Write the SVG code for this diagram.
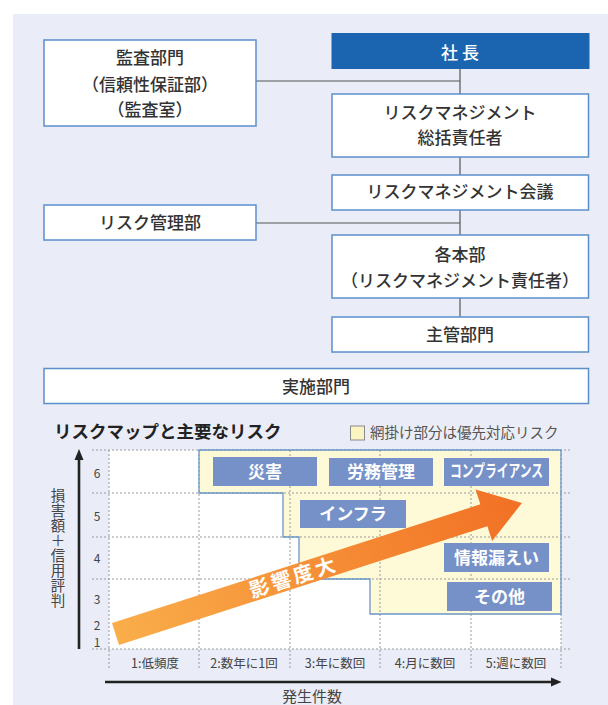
<svg xmlns="http://www.w3.org/2000/svg" width="608" height="705" viewBox="0 0 608 705">
<defs>
<style>
.box{fill:#fff;stroke:#5b8fcc;stroke-width:1.5}
.t{font-family:"Noto Sans CJK JP","Noto Sans",sans-serif;font-size:17px;font-weight:500;fill:#333;text-anchor:middle}
.conn{stroke:#555;stroke-width:1.2;fill:none}
.grid{stroke:#9a9a9a;stroke-width:1;stroke-dasharray:2 2;fill:none}
.rb{fill:#7591c8}
.rt{font-family:"Noto Sans CJK JP","Noto Sans",sans-serif;font-size:17px;font-weight:bold;fill:#fff;text-anchor:middle}
.tick{font-family:"Noto Sans CJK JP","Noto Sans",sans-serif;font-size:12.5px;fill:#444;text-anchor:middle}
.ytick{font-family:"Noto Sans CJK JP","Noto Sans",sans-serif;font-size:12px;fill:#444;text-anchor:middle}
</style>
<linearGradient id="og" gradientUnits="userSpaceOnUse" x1="0" y1="0" x2="427" y2="0">
<stop offset="0" stop-color="#f9ae4a"/>
<stop offset="1" stop-color="#f27024"/>
</linearGradient>
</defs>
<rect x="0" y="0" width="608" height="705" fill="#fff"/>
<rect x="13" y="14" width="595" height="691" fill="#eaedf7"/>

<g id="connectors">
<line class="conn" x1="256" y1="81" x2="460" y2="81"/>
<line class="conn" x1="460" y1="69" x2="460" y2="94"/>
<line class="conn" x1="460" y1="157" x2="460" y2="175"/>
<line class="conn" x1="256" y1="223" x2="460" y2="223"/>
<line class="conn" x1="460" y1="210" x2="460" y2="235"/>
<line class="conn" x1="460" y1="298" x2="460" y2="317"/>
</g>

<g id="kansa">
<rect class="box" x="44" y="40" width="212" height="86"/>
<text class="t" x="150" y="64">監査部門</text>
<text class="t" x="150" y="91">（信頼性保証部）</text>
<text class="t" x="150" y="116">（監査室）</text>
</g>
<g id="shacho">
<rect x="331.5" y="33" width="258" height="36" fill="#1b64b0"/>
<text class="t" x="460" y="59" style="fill:#fff">社 長</text>
</g>
<g id="sokatsu">
<rect class="box" x="332" y="94" width="256.5" height="63"/>
<text class="t" x="460" y="119">リスクマネジメント</text>
<text class="t" x="460" y="144">総括責任者</text>
</g>
<g id="kaigi">
<rect class="box" x="332" y="175" width="256.5" height="35"/>
<text class="t" x="460" y="198">リスクマネジメント会議</text>
</g>
<g id="riskkanri">
<rect class="box" x="44" y="205" width="212" height="35"/>
<text class="t" x="150" y="229">リスク管理部</text>
</g>
<g id="kakuhonbu">
<rect class="box" x="332" y="235" width="256.5" height="63"/>
<text class="t" x="460" y="261">各本部</text>
<text class="t" x="460" y="287">（リスクマネジメント責任者）</text>
</g>
<g id="shukan">
<rect class="box" x="332" y="317" width="256.5" height="35"/>
<text class="t" x="460" y="341">主管部門</text>
</g>
<g id="jisshi">
<rect class="box" x="44" y="368.5" width="544.5" height="35"/>
<text class="t" x="316" y="393">実施部門</text>
</g>

<g id="riskmap">
<text x="54" y="438" font-family="Noto Sans CJK JP, Noto Sans, sans-serif" font-size="17.5" font-weight="bold" fill="#222">リスクマップと主要なリスク</text>
<rect x="350.5" y="426" width="14" height="14" fill="#fbf3c2" stroke="#8a8a8a" stroke-width="1"/>
<text x="370" y="438" font-family="Noto Sans CJK JP, Noto Sans, sans-serif" font-size="14.5" fill="#555">網掛け部分は優先対応リスク</text>

<rect x="109" y="450" width="452" height="199" fill="#fff"/>
<polygon points="199,450 561,450 561,614 370,614 370,579 299,579 299,537 283,537 283,493 199,493" fill="#fef9d6"/>
<g class="grid">
<line x1="92" y1="450" x2="572" y2="450"/>
<line x1="92" y1="493" x2="572" y2="493"/>
<line x1="92" y1="537" x2="572" y2="537"/>
<line x1="92" y1="579" x2="572" y2="579"/>
<line x1="92" y1="649" x2="572" y2="649"/>
<line x1="109" y1="450" x2="109" y2="668"/>
<line x1="199" y1="450" x2="199" y2="668"/>
<line x1="290" y1="450" x2="290" y2="668"/>
<line x1="380" y1="450" x2="380" y2="668"/>
<line x1="471" y1="450" x2="471" y2="668"/>
<line x1="561" y1="450" x2="561" y2="668"/>
</g>
<polygon points="199,450 561,450 561,614 370,614 370,579 299,579 299,537 283,537 283,493 199,493" fill="none" stroke="#6a97c8" stroke-width="1.3"/>

<g id="r-saigai"><rect class="rb" x="213" y="457" width="104" height="29"/><text class="rt" x="265" y="477.5">災害</text></g>
<g id="r-romu"><rect class="rb" x="329" y="458" width="104" height="28"/><text class="rt" x="381" y="478">労務管理</text></g>
<g id="r-comp"><rect class="rb" x="444" y="458" width="105" height="28"/><text class="rt" x="496.5" y="477" font-size="14" textLength="93" lengthAdjust="spacingAndGlyphs">コンプライアンス</text></g>
<g id="r-infra"><rect class="rb" x="300" y="500" width="106" height="28"/><text class="rt" x="353" y="520">インフラ</text></g>
<g id="r-joho"><rect class="rb" x="444" y="543" width="105" height="29"/><text class="rt" x="496.5" y="563.5">情報漏えい</text></g>
<g id="r-sonota"><rect class="rb" x="447" y="582" width="105" height="29"/><text class="rt" x="499.5" y="602.5">その他</text></g>

<g id="impact-arrow" transform="translate(115.5,634) rotate(-17.86)">
<polygon points="0,-11.5 387,-11.5 387,-27 427,0 387,27 387,11.5 0,11.5" fill="url(#og)"/>
<text x="187" y="7.5" font-family="Noto Sans CJK JP, Noto Sans, sans-serif" font-size="20" font-weight="bold" fill="#fff" text-anchor="middle" letter-spacing="3">影響度大</text>
</g>

<g id="y-axis">
<line x1="79" y1="649" x2="79" y2="458" stroke="#222" stroke-width="2.6"/>
<polygon points="79,449 74.5,460 83.5,460" fill="#222"/>
</g>
<g id="x-axis">
<line x1="105" y1="682" x2="554" y2="682" stroke="#222" stroke-width="2.6"/>
<polygon points="561.5,682 551,677.5 551,686.5" fill="#222"/>
</g>

<text class="ytick" x="97" y="477.5">6</text>
<text class="ytick" x="97" y="520.5">5</text>
<text class="ytick" x="97" y="562.5">4</text>
<text class="ytick" x="97" y="603.5">3</text>
<text class="ytick" x="97" y="629.5">2</text>
<text class="ytick" x="97" y="647">1</text>

<text class="tick" x="155" y="667.5">1:低頻度</text>
<text class="tick" x="244" y="667.5">2:数年に1回</text>
<text class="tick" x="335" y="667.5">3:年に数回</text>
<text class="tick" x="425" y="667.5">4:月に数回</text>
<text class="tick" x="516" y="667.5">5:週に数回</text>

<text x="58" y="488" style="writing-mode:vertical-rl" font-family="Noto Sans CJK JP, Noto Sans, sans-serif" font-size="14.5" letter-spacing="0.5" fill="#444">損害額＋信用評判</text>

<text x="312" y="702" font-family="Noto Sans CJK JP, Noto Sans, sans-serif" font-size="15" fill="#444" text-anchor="middle">発生件数</text>
</g>
</svg>
